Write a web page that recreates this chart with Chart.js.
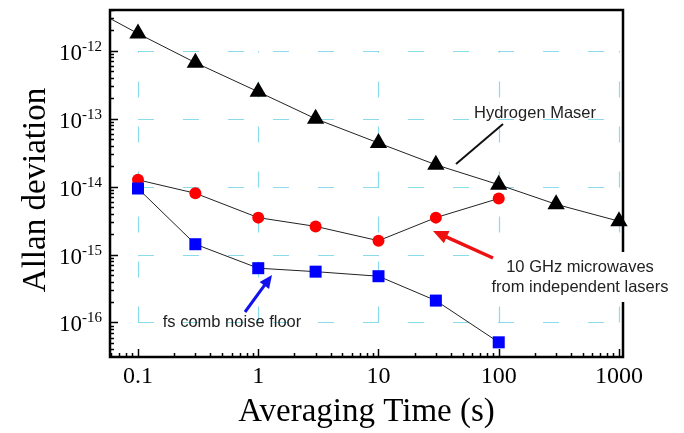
<!DOCTYPE html>
<html>
<head>
<meta charset="utf-8">
<script src="https://cdn.jsdelivr.net/npm/chart.js@4/dist/chart.umd.min.js"></script>
<style>
  body { margin: 0; background: #fff; }
  canvas { display: block; }
</style>
</head>
<body>
<canvas id="allanChart" width="684" height="433"></canvas>
<script>
// ---- data ----
const tau = [0.1, 0.3, 1, 3, 10, 30, 100, 300, 1000];
const maser = [1.8e-12, 6.7e-13, 2.5e-13, 1.0e-13, 4.4e-14, 2.1e-14, 1.07e-14, 5.5e-15, 3.1e-15];
const maserLeadTau = [0.0585, 0.1];        // line runs on to the left edge
const maserLead = [3.0e-12, 1.8e-12];
const labTau = [0.1, 0.3, 1, 3, 10, 30, 100];
const microwave = [1.26e-14, 8.0e-15, 3.5e-15, 2.6e-15, 1.6e-15, 3.5e-15, 6.7e-15];
const comb = [9.4e-15, 1.42e-15, 6.3e-16, 5.6e-16, 4.8e-16, 2.1e-16, 5.1e-17];

const xTicks = [0.1, 1, 10, 100, 1000];
const xTickLabels = ["0.1", "1", "10", "100", "1000"];
const yExps = [-12, -13, -14, -15, -16];

const xMin = 0.0585, xMax = 1080;
const yMin = 3.1e-17, yMax = 4.0e-12;

function pairs(xs, ys) {
  return ys.map((v, i) => ({ x: xs[i], y: v }));
}

// cyan dashed grid, only inside the decade box
const gridPlugin = {
  id: "grid",
  beforeDatasetsDraw(chart) {
    const { ctx } = chart;
    const x = chart.scales.x, y = chart.scales.y;
    const x0 = x.getPixelForValue(xTicks[0]);
    const x1 = x.getPixelForValue(xTicks[xTicks.length - 1]);
    const yTop = y.getPixelForValue(Math.pow(10, yExps[0]));
    const yBot = y.getPixelForValue(Math.pow(10, yExps[yExps.length - 1]));
    ctx.save();
    ctx.strokeStyle = "rgba(90,205,225,0.7)";
    ctx.lineWidth = 1.2;
    ctx.setLineDash([16, 29]);
    yExps.forEach(e => {
      const py = Math.round(y.getPixelForValue(Math.pow(10, e))) + 0.5;
      ctx.beginPath(); ctx.moveTo(x0, py); ctx.lineTo(x1, py); ctx.stroke();
    });
    xTicks.forEach(v => {
      const px = Math.round(x.getPixelForValue(v)) + 0.5;
      ctx.beginPath(); ctx.moveTo(px, yBot); ctx.lineTo(px, yTop); ctx.stroke();
    });
    ctx.restore();
  }
};

function arrow(ctx, x1, y1, x2, y2, color, w, head) {
  const a = Math.atan2(y2 - y1, x2 - x1);
  ctx.save();
  ctx.strokeStyle = color; ctx.fillStyle = color; ctx.lineWidth = w;
  ctx.beginPath();
  ctx.moveTo(x1, y1);
  ctx.lineTo(x2 - Math.cos(a) * head * 0.8, y2 - Math.sin(a) * head * 0.8);
  ctx.stroke();
  ctx.beginPath();
  ctx.moveTo(x2, y2);
  ctx.lineTo(x2 - head * Math.cos(a) + head * 0.45 * Math.sin(a), y2 - head * Math.sin(a) - head * 0.45 * Math.cos(a));
  ctx.lineTo(x2 - head * Math.cos(a) - head * 0.45 * Math.sin(a), y2 - head * Math.sin(a) + head * 0.45 * Math.cos(a));
  ctx.closePath();
  ctx.fill();
  ctx.restore();
}

// frame, inward ticks, labels, titles, annotations
const framePlugin = {
  id: "frame",
  afterDraw(chart) {
    const { ctx, chartArea: ca } = chart;
    const x = chart.scales.x, y = chart.scales.y;
    ctx.save();

    // ticks on left and bottom, pointing inside
    ctx.strokeStyle = "#000";
    ctx.lineWidth = 1.5;
    for (let e = -18; e <= -11; e++) {
      for (let k = 1; k <= 9; k++) {
        const v = k * Math.pow(10, e);
        if (v < yMin || v > yMax) continue;
        const py = Math.round(y.getPixelForValue(v)) + 0.5;
        const len = k === 1 ? 8 : 4;
        ctx.beginPath(); ctx.moveTo(ca.left, py); ctx.lineTo(ca.left + len, py); ctx.stroke();
      }
    }
    for (let e = -2; e <= 3; e++) {
      for (let k = 1; k <= 9; k++) {
        const v = k * Math.pow(10, e);
        if (v < xMin || v > xMax) continue;
        const px = Math.round(x.getPixelForValue(v)) + 0.5;
        const len = k === 1 ? 8 : 4;
        ctx.beginPath(); ctx.moveTo(px, ca.bottom); ctx.lineTo(px, ca.bottom - len); ctx.stroke();
      }
    }

    // frame
    ctx.lineWidth = 2.5;
    ctx.strokeRect(ca.left, ca.top, ca.right - ca.left, ca.bottom - ca.top);

    // tick labels
    ctx.fillStyle = "#000";
    ctx.font = "24px 'Liberation Serif', serif";
    ctx.textAlign = "center";
    ctx.textBaseline = "alphabetic";
    xTicks.forEach((v, i) => {
      ctx.fillText(xTickLabels[i], x.getPixelForValue(v), 383);
    });
    yExps.forEach(e => {
      const py = y.getPixelForValue(Math.pow(10, e));
      ctx.font = "23px 'Liberation Serif', serif";
      ctx.textAlign = "right";
      ctx.fillText("10", 82, py + 9);
      ctx.font = "15px 'Liberation Serif', serif";
      ctx.textAlign = "left";
      ctx.fillText(String(e), 82, py);
    });

    // axis titles
    ctx.font = "33px 'Liberation Serif', serif";
    ctx.textAlign = "center";
    ctx.fillText("Averaging Time (s)", (ca.left + ca.right) / 2, 421);
    ctx.save();
    ctx.translate(45, 190);
    ctx.rotate(-Math.PI / 2);
    ctx.fillText("Allan deviation", 0, 0);
    ctx.restore();

    // annotations
    ctx.font = "16.5px 'Liberation Sans', Arial, sans-serif";
    ctx.fillStyle = "#222";
    ctx.textBaseline = "middle";
    ctx.fillText("Hydrogen Maser", 535, 113);
    ctx.strokeStyle = "#111";
    ctx.lineWidth = 2;
    ctx.beginPath(); ctx.moveTo(503, 124); ctx.lineTo(456, 164); ctx.stroke();

    ctx.fillStyle = "#fff";
    ctx.fillRect(485, 252, 192, 50);
    ctx.fillStyle = "#222";
    ctx.fillText("10 GHz microwaves", 580, 267);
    ctx.fillText("from independent lasers", 580, 287);
    arrow(ctx, 493, 258, 433, 231, "#ee1111", 3.5, 15);

    ctx.fillText("fs comb noise floor", 232, 322);
    arrow(ctx, 245, 312, 272, 275, "#1111ee", 3, 13);

    ctx.restore();
  }
};

const lineColor = "#222";

new Chart(document.getElementById("allanChart"), {
  type: "line",
  data: {
    datasets: [
      {
        label: "fs comb noise floor",
        data: pairs(labTau, comb),
        borderColor: lineColor,
        borderWidth: 1,
        pointStyle: "rect",
        pointRadius: 8.5,
        pointBackgroundColor: "#0000ff",
        pointBorderColor: "#0000ff",
        pointBorderWidth: 0
      },
      {
        label: "10 GHz microwaves",
        data: pairs(labTau, microwave),
        borderColor: lineColor,
        borderWidth: 1,
        pointStyle: "circle",
        pointRadius: 6,
        pointBackgroundColor: "#ff0000",
        pointBorderColor: "#ff0000",
        pointBorderWidth: 0
      },
      {
        label: "Hydrogen Maser",
        data: pairs(tau, maser),
        borderColor: lineColor,
        borderWidth: 1,
        pointStyle: "triangle",
        pointRadius: 10,
        pointBackgroundColor: "#000",
        pointBorderColor: "#000",
        pointBorderWidth: 0
      },
      {
        label: "maser lead",
        data: pairs(maserLeadTau, maserLead),
        borderColor: lineColor,
        borderWidth: 1,
        pointRadius: 0
      }
    ]
  },
  options: {
    responsive: false,
    animation: false,
    clip: false,
    layout: { padding: { left: 0, top: 7, right: 61, bottom: 0 } },
    plugins: { legend: { display: false }, tooltip: { enabled: false } },
    scales: {
      x: {
        type: "logarithmic",
        min: xMin, max: xMax,
        ticks: { display: false },
        grid: { display: false },
        border: { display: false },
        afterFit(s) { s.height = 76; }
      },
      y: {
        type: "logarithmic",
        min: yMin, max: yMax,
        ticks: { display: false },
        grid: { display: false },
        border: { display: false },
        afterFit(s) { s.width = 110; }
      }
    }
  },
  plugins: [gridPlugin, framePlugin]
});
</script>
</body>
</html>
